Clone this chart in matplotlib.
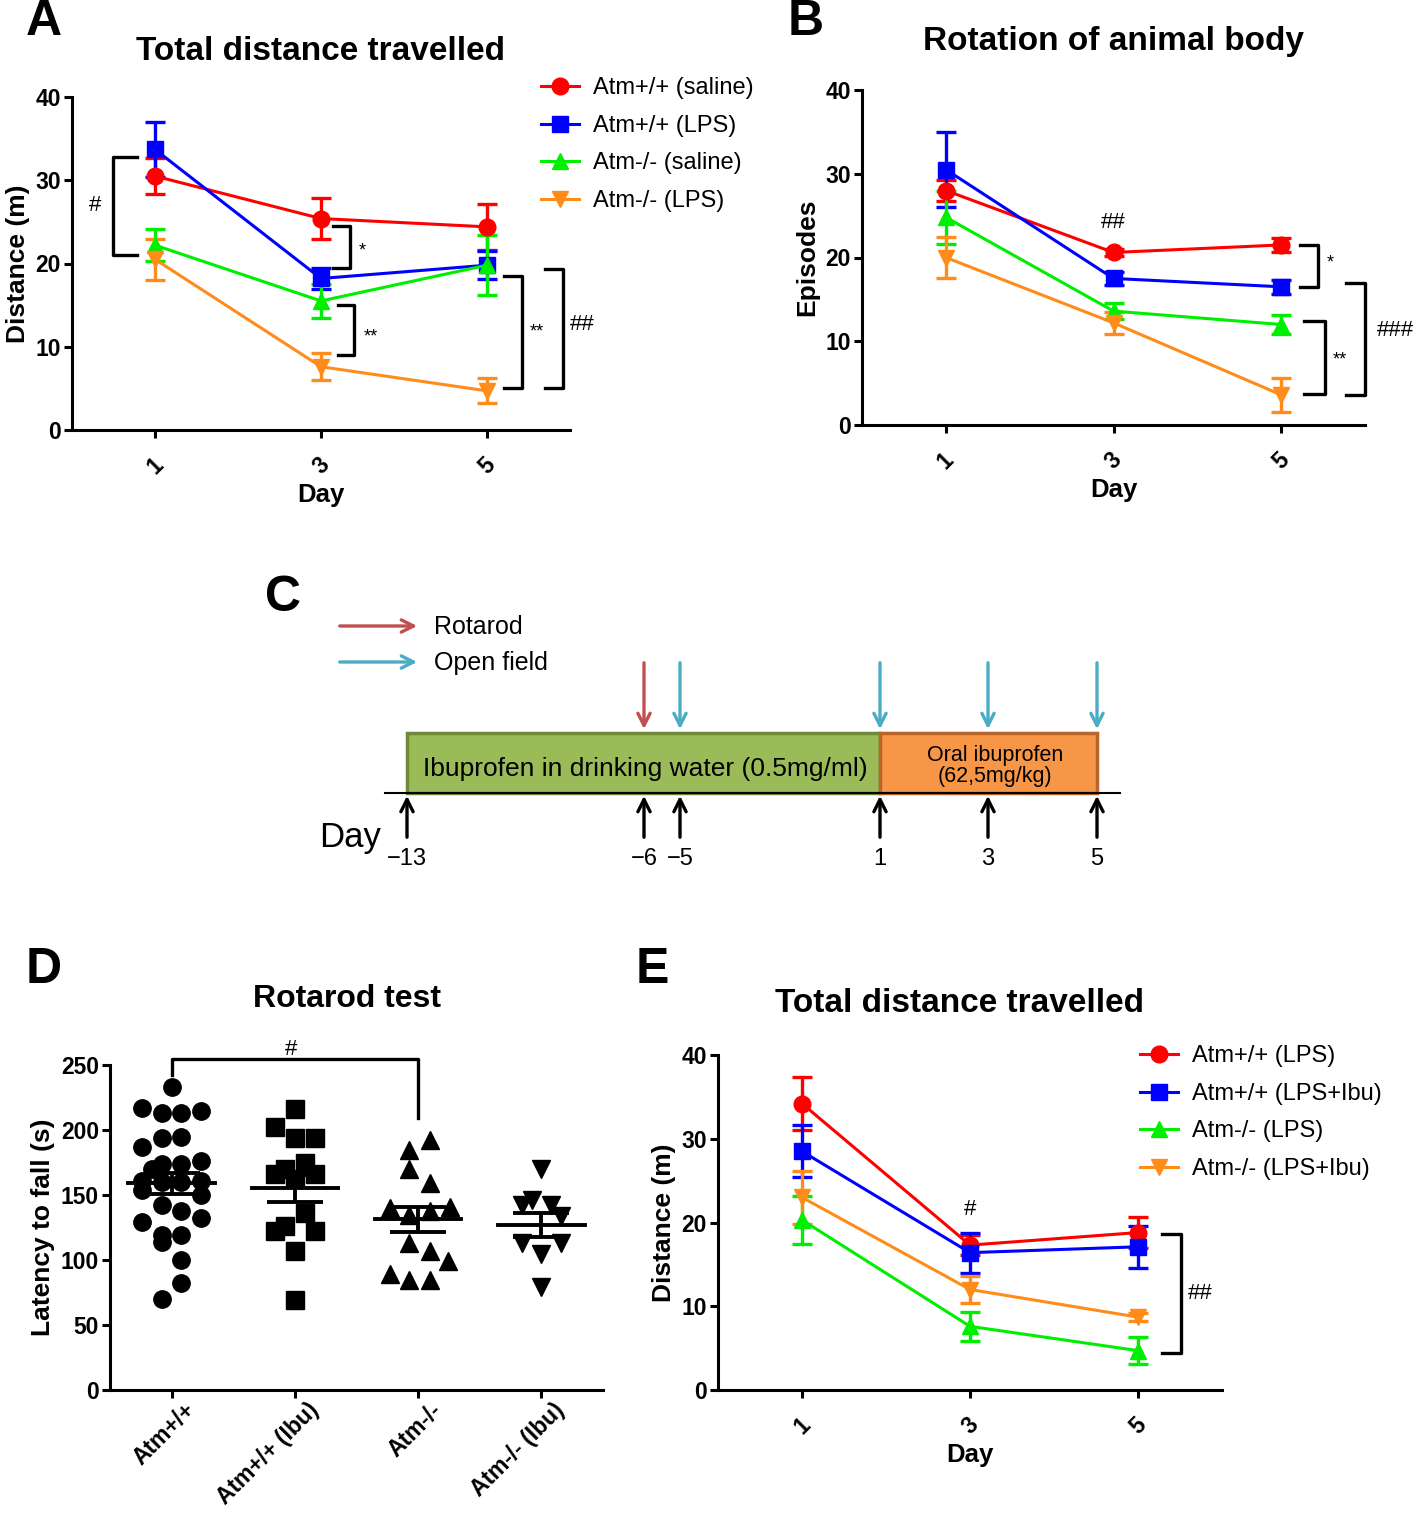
import matplotlib.pyplot as plt
from matplotlib.transforms import ScaledTranslation
import numpy as np

W, H = 1418, 1513
plt.rcParams['font.family'] = ['Liberation Sans', 'DejaVu Sans']

days = [1, 3, 5]
colors = ['#ff0000', '#0000ff', '#00ee00', '#ff8c1a']
markers = ['o', 's', '^', 'v']

# A - total distance travelled (m)
labels_a = ['Atm+/+ (saline)', 'Atm+/+ (LPS)', 'Atm-/- (saline)', 'Atm-/- (LPS)']
dist_mean = [[30.5, 25.4, 24.4], [33.7, 18.2, 19.8], [22.2, 15.5, 19.8], [20.5, 7.6, 4.7]]
dist_sem = [[2.2, 2.5, 2.8], [3.3, 1.3, 1.7], [1.9, 2.0, 3.6], [2.5, 1.6, 1.5]]

# B - rotation episodes
rot_mean = [[28.0, 20.6, 21.5], [30.5, 17.5, 16.5], [24.8, 13.6, 12.0], [20.0, 12.2, 3.6]]
rot_sem = [[1.2, 0.4, 0.8], [4.5, 0.8, 0.8], [3.2, 1.0, 1.1], [2.5, 1.3, 2.0]]

# E - total distance with ibuprofen
labels_e = ['Atm+/+ (LPS)', 'Atm+/+ (LPS+Ibu)', 'Atm-/- (LPS)', 'Atm-/- (LPS+Ibu)']
ibu_mean = [[34.2, 17.3, 18.8], [28.5, 16.4, 17.1], [20.3, 7.6, 4.7], [23.0, 12.0, 8.7]]
ibu_sem = [[3.2, 1.2, 1.9], [3.1, 2.4, 2.5], [2.9, 1.7, 1.6], [3.2, 1.6, 0.5]]

# D - rotarod latency (s), swarm offset per point
rot_groups = ['Atm+/+', 'Atm+/+ (Ibu)', 'Atm-/-', 'Atm-/- (Ibu)']
lat_wt = [233, 217, 213, 213, 215, 194, 195, 187, 170, 174, 174, 176, 161, 160,
          160, 161, 154, 150, 142, 138, 129, 132, 119, 114, 119, 100, 82, 70]
off_wt = [0, -.24, -.08, .08, .24, -.08, .08, -.24, -.16, -.08, .08, .24, -.24, -.08,
          .08, .24, -.24, .24, -.08, .08, -.24, .24, -.08, -.08, .08, .08, .08, -.08]
lat_wt_ibu = [216, 202, 194, 194, 175, 170, 166, 162, 166, 136, 122, 126, 122, 107, 69]
off_wt_ibu = [0, -.16, 0, .16, .08, -.08, -.16, 0, .16, .08, -.16, -.08, .16, 0, 0]
lat_ko = [192, 185, 170, 159, 140, 141, 135, 138, 113, 107, 99, 89, 85, 85]
off_ko = [.1, -.07, -.07, .1, -.23, .26, -.07, .1, -.07, .1, .24, -.23, -.07, .1]
lat_ko_ibu = [170, 142, 146, 142, 134, 113, 113, 105, 79]
off_ko_ibu = [0, -.16, -.08, .08, .16, -.16, .16, 0, 0]

# C - timeline schematic
tl_days = ['\u221213', '\u22126', '\u22125', '1', '3', '5']
tl_x = [407, 644, 680, 880, 988, 1097]
rotarod_x = [644]
openfield_x = [680, 880, 988, 1097]


def rect(x0, y0, x1, y1):
    return [x0 / W, 1 - y1 / H, (x1 - x0) / W, (y1 - y0) / H]


def style(ax):
    for s in ['top', 'right']:
        ax.spines[s].set_visible(False)
    for s in ['left', 'bottom']:
        ax.spines[s].set_linewidth(2.2)
    ax.tick_params(width=2.2, length=6, direction='out', labelsize=16.5, pad=2)
    for lab in ax.get_yticklabels():
        lab.set_fontweight('bold')


def line_panel(ax, means, sems, labels, ymax=40):
    for m, s, c, mk, lab in zip(means, sems, colors, markers, labels):
        ax.errorbar(days, m, yerr=s, fmt='none', ecolor=c, elinewidth=2.4,
                    capsize=7, capthick=2.4, zorder=2)
        ax.plot(days, m, color=c, marker=mk, ms=12, lw=2.2, label=lab, zorder=3)
    ax.set_xlim(0, 6)
    ax.set_ylim(0, ymax)
    ax.set_yticks(range(0, ymax + 1, 10))
    ax.set_xticks(days)
    ax.set_xticklabels([str(d) for d in days], rotation=45, fontweight='bold', fontsize=16)
    style(ax)
    ax.tick_params(axis='x', pad=11)
    ax.set_xlabel('Day', fontsize=18.5, fontweight='bold', labelpad=3)


def bracket(ax, xa, xv, y0, y1, txt, tx, ty, fs=13):
    ax.plot([xa, xv, xv, xa], [y0, y0, y1, y1], color='black', lw=2.4, clip_on=False)
    ax.text(tx, ty, txt, fontsize=fs, ha='center', va='center', clip_on=False)


fig = plt.figure(figsize=(W / 100, H / 100), dpi=100)
leg_kw = dict(bbox_transform=fig.transFigure, loc='upper left', frameon=False, fontsize=17,
              handlelength=1.6, labelspacing=0.66, handletextpad=0.6)

# ---- A
axA = fig.add_axes(rect(72, 97, 570, 430))
line_panel(axA, dist_mean, dist_sem, labels_a)
axA.set_ylabel('Distance (m)', fontsize=19, fontweight='bold', labelpad=4)
axA.set_title('Total distance travelled', fontsize=24, fontweight='bold', pad=27, x=0.5)
bracket(axA, 0.78, 0.49, 32.8, 21.0, '#', 0.28, 27.0, 16)
bracket(axA, 3.14, 3.35, 24.5, 19.5, '*', 3.5, 21.5)
bracket(axA, 3.2, 3.4, 15.0, 9.0, '**', 3.6, 11.2)
bracket(axA, 5.2, 5.42, 18.5, 5.0, '**', 5.6, 11.8)
bracket(axA, 5.7, 5.92, 19.3, 5.0, '##', 6.15, 12.7, 16)
axA.legend(bbox_to_anchor=(520 / W, 1 - 56 / H), **leg_kw)

# ---- B
axB = fig.add_axes(rect(862, 90, 1365, 425))
line_panel(axB, rot_mean, rot_sem, labels_a)
axB.set_ylabel('Episodes', fontsize=19, fontweight='bold', labelpad=4)
axB.set_title('Rotation of animal body', fontsize=24, fontweight='bold', pad=29)
bracket(axB, 5.22, 5.44, 21.5, 16.5, '*', 5.58, 19.3)
bracket(axB, 5.27, 5.52, 12.4, 3.7, '**', 5.7, 7.8)
bracket(axB, 5.77, 6.0, 17.0, 3.6, '###', 6.36, 11.3, 16)
axB.text(3, 24.2, '##', fontsize=16, ha='center', va='center')

# ---- E
axE = fig.add_axes(rect(718, 1055, 1222, 1390))
line_panel(axE, ibu_mean, ibu_sem, labels_e)
axE.set_ylabel('Distance (m)', fontsize=19, fontweight='bold', labelpad=4)
axE.set_title('Total distance travelled', fontsize=24, fontweight='bold', pad=31, x=0.48)
bracket(axE, 5.29, 5.51, 18.6, 4.4, '##', 5.74, 11.5, 16)
axE.text(3, 21.5, '#', fontsize=16, ha='center', va='center')
axE.legend(bbox_to_anchor=(1119 / W, 1 - 1024 / H), **leg_kw)

# ---- D
axD = fig.add_axes(rect(110, 1065, 603, 1390))
groups = [(lat_wt, off_wt, 'o'), (lat_wt_ibu, off_wt_ibu, 's'),
          (lat_ko, off_ko, '^'), (lat_ko_ibu, off_ko_ibu, 'v')]
for i, (vals, offs, mk) in enumerate(groups):
    vals = np.array(vals, dtype=float)
    axD.plot(i + np.array(offs), vals, ls='none', marker=mk, ms=12.5, color='black', zorder=2)
    mean = vals.mean()
    sem = vals.std(ddof=1) / np.sqrt(len(vals))
    axD.plot([i - 0.35, i + 0.35], [mean, mean], color='black', lw=2.8, zorder=3)
    axD.errorbar([i], [mean], yerr=[sem], fmt='none', ecolor='black', elinewidth=2.8,
                 capsize=20, capthick=2.8, zorder=3)
axD.set_xlim(-0.5, 3.5)
axD.set_ylim(0, 250)
axD.set_yticks(range(0, 251, 50))
axD.set_xticks(range(4))
axD.set_xticklabels(rot_groups, rotation=45, ha='right', va='center', rotation_mode='anchor',
                    fontweight='bold', fontsize=16)
style(axD)
axD.tick_params(axis='x', pad=6)
shift = ScaledTranslation(0.2, 0, fig.dpi_scale_trans)
for lab in axD.get_xticklabels():
    lab.set_transform(lab.get_transform() + shift)
axD.set_ylabel('Latency to fall (s)', fontsize=19, fontweight='bold', labelpad=4)
axD.set_title('Rotarod test', fontsize=23, fontweight='bold', pad=42, x=0.48)
axD.plot([0, 0, 2, 2], [242, 255, 255, 209], color='black', lw=2.4, clip_on=False)
axD.text(0.97, 262, '#', fontsize=16, ha='center', va='center', clip_on=False)

# ---- overlay for C and panel letters
ov = fig.add_axes([0, 0, 1, 1])
ov.set_xlim(0, W)
ov.set_ylim(H, 0)
ov.axis('off')
ov.patch.set_alpha(0)

for lt, (x, y) in zip('ABCDE', [(44, 22), (806, 22), (283, 598), (44, 970), (652, 970)]):
    ov.text(x, y, lt, fontsize=36, fontweight='bold', ha='center', va='center')

red_c, blue_c = '#c0504d', '#4bacc6'
arr = dict(arrowstyle='->', lw=2.4, mutation_scale=22)
ov.annotate('', xy=(420, 626), xytext=(337, 626), arrowprops=dict(arr, color=red_c))
ov.annotate('', xy=(420, 662), xytext=(337, 662), arrowprops=dict(arr, color=blue_c))
ov.text(434, 627, 'Rotarod', fontsize=18, va='center')
ov.text(434, 663, 'Open field', fontsize=18, va='center')

ov.add_patch(plt.Rectangle((407, 733), 880 - 407, 60, facecolor='#9bbb59', edgecolor='#6f8a35', lw=2.5))
ov.add_patch(plt.Rectangle((880, 733), 1097 - 880, 60, facecolor='#f79646', edgecolor='#b8652a', lw=2.5))
ov.text(645, 769, 'Ibuprofen in drinking water (0.5mg/ml)', fontsize=19, ha='center', va='center')
ov.text(995, 766, 'Oral ibuprofen\n(62,5mg/kg)', fontsize=15.5, ha='center', va='center', linespacing=1.05)
ov.plot([385, 1120], [793, 793], color='black', lw=1.5)

for x in rotarod_x:
    ov.annotate('', xy=(x, 732), xytext=(x, 660), arrowprops=dict(arr, color=red_c))
for x in openfield_x:
    ov.annotate('', xy=(x, 732), xytext=(x, 660), arrowprops=dict(arr, color=blue_c))
for x, d in zip(tl_x, tl_days):
    ov.annotate('', xy=(x, 793), xytext=(x, 840), arrowprops=dict(arr, color='black'))
    ov.text(x, 859, d, fontsize=17, ha='center', va='center')
ov.text(350, 838, 'Day', fontsize=25, ha='center', va='center')

fig.savefig('out.png', dpi=100)
